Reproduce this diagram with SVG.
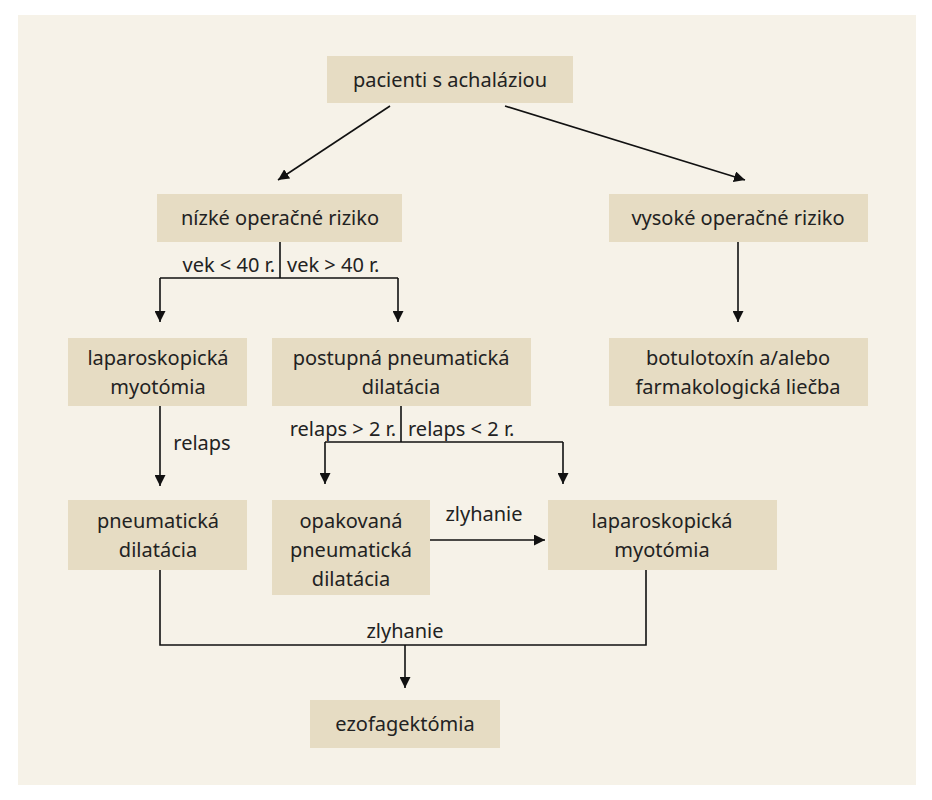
<svg xmlns="http://www.w3.org/2000/svg" width="932" height="800" viewBox="0 0 932 800">
<defs>
<marker id="ah" viewBox="0 0 10 10" refX="10" refY="5" markerWidth="11" markerHeight="11" markerUnits="userSpaceOnUse" orient="auto"><path d="M0,0 L10,5 L0,10 z" fill="#111"/></marker>
<style>
.n{fill:#e6dcc3}
.t{font-family:"Noto Sans","Open Sans",sans-serif;font-size:20px;fill:#222;text-anchor:middle}
.e{text-anchor:end}
.s{text-anchor:start}
.c{stroke:#111;stroke-width:1.6;fill:none}
.a{marker-end:url(#ah)}
</style>
</defs>
<rect width="932" height="800" fill="#fff"/>
<rect x="18" y="15" width="898" height="770" fill="#f6f2e8"/>
<g id="connectors">
<line class="c a" x1="390" y1="106" x2="278" y2="180"/>
<line class="c a" x1="505" y1="106" x2="745" y2="180"/>
<polyline class="c" points="280,242 280,278"/>
<polyline class="c a" points="160,278 160,322"/>
<polyline class="c" points="160,278 398,278"/>
<polyline class="c a" points="398,278 398,322"/>
<line class="c a" x1="738" y1="242" x2="738" y2="322"/>
<line class="c a" x1="160" y1="406" x2="160" y2="486"/>
<polyline class="c" points="401,406 401,442"/>
<polyline class="c a" points="325,442 325,484"/>
<polyline class="c" points="325,442 563,442"/>
<polyline class="c a" points="563,442 563,484"/>
<line class="c a" x1="430" y1="540" x2="545" y2="540"/>
<polyline class="c" points="160,570 160,645 646,645 646,570"/>
<line class="c a" x1="405" y1="645" x2="405" y2="688"/>
<text class="t" x="202" y="450">relaps</text>
<text class="t e" x="275" y="272">vek &lt; 40 r.</text>
<text class="t s" x="287" y="272">vek &gt; 40 r.</text>
<text class="t e" x="396" y="436">relaps &gt; 2 r.</text>
<text class="t s" x="408" y="436">relaps &lt; 2 r.</text>
<text class="t" x="484" y="521">zlyhanie</text>
<text class="t" x="405" y="638">zlyhanie</text>
</g>
<g id="n1"><rect class="n" x="327" y="56" width="246" height="47"/><text class="t" x="450" y="87">pacienti s achaláziou</text></g>
<g id="n2"><rect class="n" x="157" y="194" width="245" height="48"/><text class="t" x="280" y="225">nízké operačné riziko</text></g>
<g id="n3"><rect class="n" x="609" y="194" width="259" height="48"/><text class="t" x="738" y="225">vysoké operačné riziko</text></g>
<g id="n4"><rect class="n" x="68" y="338" width="179" height="68"/><text class="t" x="158" y="365">laparoskopická</text><text class="t" x="158" y="394">myotómia</text></g>
<g id="n5"><rect class="n" x="272" y="338" width="259" height="68"/><text class="t" x="401" y="365">postupná pneumatická</text><text class="t" x="401" y="394">dilatácia</text></g>
<g id="n6"><rect class="n" x="609" y="338" width="259" height="68"/><text class="t" x="738" y="365">botulotoxín a/alebo</text><text class="t" x="738" y="394">farmakologická liečba</text></g>
<g id="n7"><rect class="n" x="68" y="500" width="179" height="70"/><text class="t" x="158" y="528">pneumatická</text><text class="t" x="158" y="557">dilatácia</text></g>
<g id="n8"><rect class="n" x="272" y="500" width="158" height="95"/><text class="t" x="351" y="528">opakovaná</text><text class="t" x="351" y="557">pneumatická</text><text class="t" x="351" y="586">dilatácia</text></g>
<g id="n9"><rect class="n" x="548" y="500" width="229" height="70"/><text class="t" x="662" y="528">laparoskopická</text><text class="t" x="662" y="557">myotómia</text></g>
<g id="n10"><rect class="n" x="310" y="700" width="190" height="48"/><text class="t" x="405" y="731">ezofagektómia</text></g>
</svg>
